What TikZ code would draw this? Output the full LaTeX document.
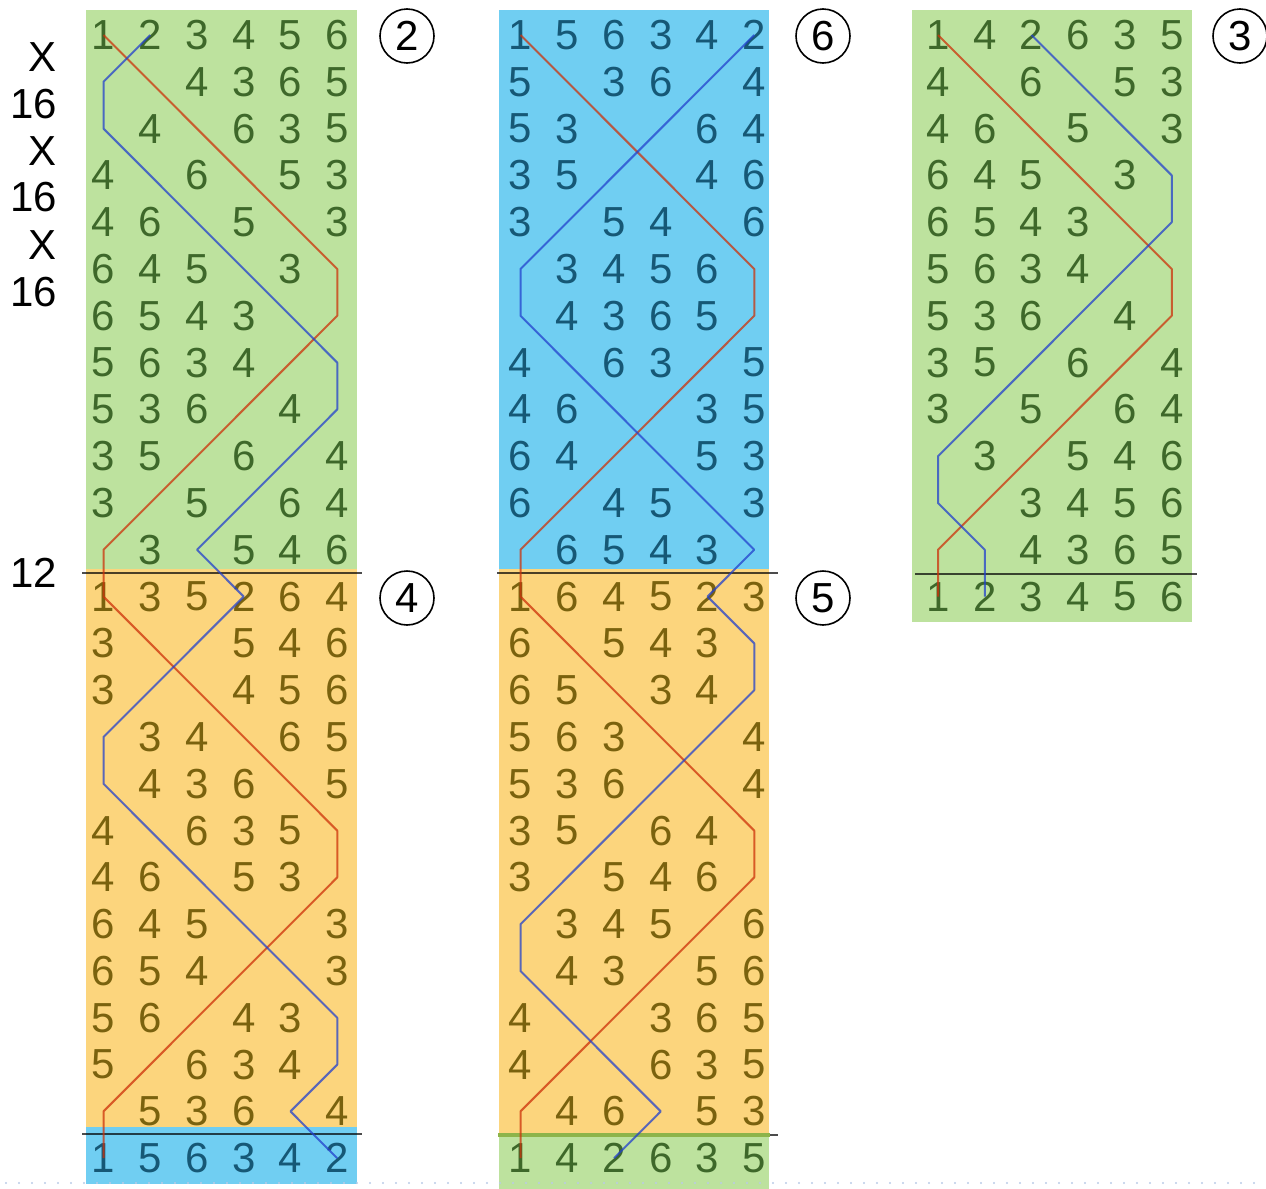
\documentclass[tikz,border=0pt]{standalone}
\usepackage{fontspec}
\setmainfont{Liberation Sans}
\definecolor{bggreen}{RGB}{189,226,158}
\definecolor{bgblue}{RGB}{112,206,242}
\definecolor{bgorange}{RGB}{252,213,125}
\definecolor{txgreen}{RGB}{62,104,42}
\definecolor{txorange}{RGB}{122,98,14}
\definecolor{txblue}{RGB}{22,88,118}
\definecolor{lnred}{RGB}{205,50,10}
\definecolor{lnblue}{RGB}{35,65,205}
\definecolor{sepgreen}{RGB}{141,180,74}
\definecolor{dotcol}{RGB}{185,203,230}
% #1 prefix, #2 x of first place, #3 text colour, #4 first row index, #5 rows
\newcommand\ringrows[5]{%
  \foreach \row [count=\r from #4] in {#5} {%
    \foreach \d [count=\i] in \row {%
      \node[bellnum, text=#3] (#1-\r-\i) at ({#2+(\i-1)*46.75}, {35+46.8*\r}) {\ifnum\d=0 \else\d\fi};
    }%
  }%
}
\begin{document}
\begin{tikzpicture}[x=0.5pt,y=-0.5pt,
  bellnum/.style={font=\fontsize{21}{24}\selectfont, inner sep=0pt, outer sep=0pt},
  rowlabel/.style={font=\fontsize{21}{24}\selectfont, inner sep=0pt, text=black},
  leadlabel/.style={circle, draw=black, line width=0.8pt, minimum size=27pt, inner sep=0pt, font=\fontsize{21}{24}\selectfont},
  bellone/.style={draw=lnred, line width=1pt, opacity=0.75, line join=round},
  belltwo/.style={draw=lnblue, line width=1pt, opacity=0.75, line join=round},
  sepline/.style={draw=black, opacity=0.7, line width=1pt},
  dotline/.style={draw=dotcol, line width=1.1pt, line cap=round, dash pattern=on 0pt off 6.5pt}]
\useasboundingbox (0,0) rectangle (1266,1189);

% backgrounds
\fill[bggreen]  (86,10)   rectangle (357,569);
\fill[bgorange] (86,569)  rectangle (357,1127);
\fill[bgblue]   (86,1127) rectangle (357,1184);
\fill[bgblue]   (499,10)  rectangle (769,569);
\fill[bgorange] (499,569) rectangle (769,1133);
\fill[bggreen]  (499,1133) rectangle (769,1189);
\fill[bggreen]  (912,10)  rectangle (1192,622);

% separators
\draw[sepline] (82,573) -- (362,573);
\draw[sepline] (82,1134) -- (362,1134);
\draw[sepline] (497,573) -- (778,573);
\draw[sepline] (765,1135) -- (778,1135);
\draw[draw=sepgreen, line width=2.2pt] (498,1135) -- (770,1135);
\draw[sepline] (915,574) -- (1197,574);

% column 1
\ringrows{a}{103.5}{txgreen}{0}{{1,2,3,4,5,6},{0,0,4,3,6,5},{0,4,0,6,3,5},{4,0,6,0,5,3},{4,6,0,5,0,3},{6,4,5,0,3,0},{6,5,4,3,0,0},{5,6,3,4,0,0},{5,3,6,0,4,0},{3,5,0,6,0,4},{3,0,5,0,6,4},{0,3,0,5,4,6}}
\ringrows{a}{103.5}{txorange}{12}{{1,3,5,2,6,4},{3,0,0,5,4,6},{3,0,0,4,5,6},{0,3,4,0,6,5},{0,4,3,6,0,5},{4,0,6,3,5,0},{4,6,0,5,3,0},{6,4,5,0,0,3},{6,5,4,0,0,3},{5,6,0,4,3,0},{5,0,6,3,4,0},{0,5,3,6,0,4}}
\ringrows{a}{103.5}{txblue}{24}{{1,5,6,3,4,2}}

% column 2
\ringrows{b}{520.5}{txblue}{0}{{1,5,6,3,4,2},{5,0,3,6,0,4},{5,3,0,0,6,4},{3,5,0,0,4,6},{3,0,5,4,0,6},{0,3,4,5,6,0},{0,4,3,6,5,0},{4,0,6,3,0,5},{4,6,0,0,3,5},{6,4,0,0,5,3},{6,0,4,5,0,3},{0,6,5,4,3,0}}
\ringrows{b}{520.5}{txorange}{12}{{1,6,4,5,2,3},{6,0,5,4,3,0},{6,5,0,3,4,0},{5,6,3,0,0,4},{5,3,6,0,0,4},{3,5,0,6,4,0},{3,0,5,4,6,0},{0,3,4,5,0,6},{0,4,3,0,5,6},{4,0,0,3,6,5},{4,0,0,6,3,5},{0,4,6,0,5,3}}
\ringrows{b}{520.5}{txgreen}{24}{{1,4,2,6,3,5}}

% column 3
\ringrows{c}{938}{txgreen}{0}{{1,4,2,6,3,5},{4,0,6,0,5,3},{4,6,0,5,0,3},{6,4,5,0,3,0},{6,5,4,3,0,0},{5,6,3,4,0,0},{5,3,6,0,4,0},{3,5,0,6,0,4},{3,0,5,0,6,4},{0,3,0,5,4,6},{0,0,3,4,5,6},{0,0,4,3,6,5},{1,2,3,4,5,6}}

% paths of bells 1 and 2
\draw[bellone] (a-0-1.center) \foreach \p [count=\r] in {2,3,4,5,6,6,5,4,3,2,1,1,2,3,4,5,6,6,5,4,3,2,1,1} {-- (a-\r-\p.center)};
\draw[belltwo] (a-0-2.center) \foreach \p [count=\r] in {1,1,2,3,4,5,6,6,5,4,3,4,3,2,1,1,2,3,4,5,6,6,5,6} {-- (a-\r-\p.center)};
\draw[bellone] (b-0-1.center) \foreach \p [count=\r] in {2,3,4,5,6,6,5,4,3,2,1,1,2,3,4,5,6,6,5,4,3,2,1,1} {-- (b-\r-\p.center)};
\draw[belltwo] (b-0-6.center) \foreach \p [count=\r] in {5,4,3,2,1,1,2,3,4,5,6,5,6,6,5,4,3,2,1,1,2,3,4,3} {-- (b-\r-\p.center)};
\draw[bellone] (c-0-1.center) \foreach \p [count=\r] in {2,3,4,5,6,6,5,4,3,2,1,1} {-- (c-\r-\p.center)};
\draw[belltwo] (c-0-3.center) \foreach \p [count=\r] in {4,5,6,6,5,4,3,2,1,1,2,2} {-- (c-\r-\p.center)};

% place notation
\node[rowlabel] (pn1) at (43,57)  {X};
\node[rowlabel] (pn2) at (34,104) {16};
\node[rowlabel] (pn3) at (43,151) {X};
\node[rowlabel] (pn4) at (34,197) {16};
\node[rowlabel] (pn5) at (43,245) {X};
\node[rowlabel] (pn6) at (34,292) {16};
\node[rowlabel] (pn7) at (34,573) {12};

% lead numbers
\node[leadlabel] (ld2) at (407,36)  {2};
\node[leadlabel] (ld4) at (407,598) {4};
\node[leadlabel] (ld6) at (823,36)  {6};
\node[leadlabel] (ld5) at (823,598) {5};
\node[leadlabel] (ld3) at (1240,36) {3};

% dotted base line
\draw[dotline] (6,1183) -- (1266,1183);
\end{tikzpicture}
\end{document}
